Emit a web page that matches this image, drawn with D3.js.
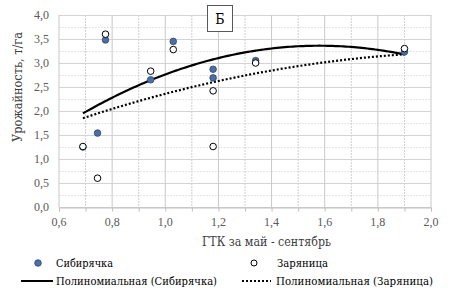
<!DOCTYPE html>
<html>
<head>
<meta charset="utf-8">
<script src="https://d3js.org/d3.v7.min.js"></script>
<style>
body { margin: 0; background: #fff; }
.num { font-family: "Liberation Serif", "Times New Roman", serif; }
.cyr { font-family: "DejaVu Serif Condensed", "DejaVu Serif", serif; }
</style>
</head>
<body>
<svg width="452" height="288"></svg>
<script>
// data
var gtk      = [0.69, 0.745, 0.775, 0.945, 1.03, 1.18, 1.18, 1.34, 1.90];
var sibir    = [1.25, 1.54, 3.48, 2.65, 3.45, 2.87, 2.69, 3.05, 3.23];
var zaryan   = [1.26, 0.60, 3.60, 2.83, 3.28, 2.42, 1.26, 3.00, 3.30];
// trend line coefficients (c0 + c1*x + c2*x^2)
var trendSibir  = [-1.084, 5.625, -1.78];
var trendZaryan = [0.306, 2.651, -0.599];
var xTicks = [0.6, 0.8, 1.0, 1.2, 1.4, 1.6, 1.8, 2.0];
var yTicks = [0, 0.5, 1, 1.5, 2, 2.5, 3, 3.5, 4];

var svg = d3.select("svg");
var pL = 59, pR = 431, pT = 15, pB = 207;
var x = d3.scaleLinear().domain([0.6, 2.0]).range([pL, pR]);
var y = d3.scaleLinear().domain([0, 4]).range([pB, pT]);
var fmt = function(v){ return d3.format(".1f")(v).replace(".", ","); };

// grid
var g = svg.append("g");
d3.range(0, 4.001, 0.25).forEach(function(v, i){
  g.append("line").attr("x1", pL).attr("x2", pR).attr("y1", y(v) + 0.5).attr("y2", y(v) + 0.5)
   .attr("stroke", i % 2 ? "#e6e6e6" : "#d4d4d4").attr("stroke-width", 1)
   .attr("stroke-dasharray", i % 2 ? "2,1" : null);
});
d3.range(0.6, 2.001, 0.1).forEach(function(v, i){
  g.append("line").attr("x1", x(v)).attr("x2", x(v)).attr("y1", pT).attr("y2", pB)
   .attr("stroke", i % 2 ? "#cfcfcf" : "#c8c8c8").attr("stroke-width", 1)
   .attr("stroke-dasharray", i % 2 ? "2,1" : null);
});

// x axis
var xa = svg.append("g").attr("transform", "translate(0," + (pB + 0.5) + ")")
  .call(d3.axisBottom(x).tickValues(d3.range(0.6, 2.001, 0.1)).tickSize(4).tickFormat(""));
xa.select(".domain").attr("stroke", "#bfbfbf");
xa.selectAll(".tick line").attr("stroke", "#bfbfbf");
svg.append("g").attr("class", "num").selectAll("text").data(xTicks).enter().append("text")
  .attr("x", function(d){ return x(d); }).attr("y", 226)
  .attr("text-anchor", "middle").attr("font-size", 12).attr("fill", "#595959")
  .text(fmt);
svg.append("g").attr("class", "num").selectAll("text").data(yTicks).enter().append("text")
  .attr("x", 49).attr("y", function(d){ return y(d) + 4; })
  .attr("text-anchor", "end").attr("font-size", 12).attr("fill", "#595959")
  .text(fmt);

// titles
svg.append("text").attr("class", "cyr").attr("x", 202).attr("y", 246)
  .attr("font-size", 12.5).attr("fill", "#404040")
  .attr("textLength", 129).attr("lengthAdjust", "spacingAndGlyphs").text("ГТК за май - сентябрь");
svg.append("text").attr("class", "cyr").attr("transform", "translate(22,142) rotate(-90)")
  .attr("font-size", 12.5).attr("fill", "#404040")
  .attr("textLength", 110).attr("lengthAdjust", "spacingAndGlyphs").text("Урожайность, т/га");

// trend lines
function curve(c){
  var xs = d3.range(d3.min(gtk), d3.max(gtk) + 0.0001, 0.01);
  return xs.map(function(v){ return [v, c[0] + c[1]*v + c[2]*v*v]; });
}
var line = d3.line().x(function(d){ return x(d[0]); }).y(function(d){ return y(d[1]); });
svg.append("path").attr("d", line(curve(trendZaryan))).attr("fill", "none")
  .attr("stroke", "#000").attr("stroke-width", 2.2).attr("stroke-dasharray", "2,2");
svg.append("path").attr("d", line(curve(trendSibir))).attr("fill", "none")
  .attr("stroke", "#000").attr("stroke-width", 2.2);

// points
svg.append("g").selectAll("circle").data(gtk).enter().append("circle")
  .attr("cx", function(d){ return x(d); }).attr("cy", function(d, i){ return y(sibir[i]); })
  .attr("r", 3.3).attr("fill", "#4e6fa3").attr("stroke", "#2d4670").attr("stroke-width", 0.8);
svg.append("g").selectAll("circle").data(gtk).enter().append("circle")
  .attr("cx", function(d){ return x(d); }).attr("cy", function(d, i){ return y(zaryan[i]); })
  .attr("r", 3.3).attr("fill", "#fff").attr("stroke", "#000").attr("stroke-width", 1);

// label box
svg.append("rect").attr("x", 207.5).attr("y", 5.5).attr("width", 25).attr("height", 26)
  .attr("fill", "#fff").attr("stroke", "#595959").attr("stroke-width", 1);
svg.append("text").attr("class", "cyr").attr("x", 220).attr("y", 24).attr("text-anchor", "middle")
  .attr("font-size", 14).attr("fill", "#000").text("Б");

// legend
var lg = svg.append("g").attr("class", "cyr").attr("font-size", 11.5).attr("fill", "#000");
lg.append("circle").attr("cx", 38).attr("cy", 263).attr("r", 3.3)
  .attr("fill", "#4e6fa3").attr("stroke", "#2d4670").attr("stroke-width", 0.8);
lg.append("text").attr("x", 56).attr("y", 267).attr("textLength", 57)
  .attr("lengthAdjust", "spacingAndGlyphs").text("Сибирячка");
lg.append("circle").attr("cx", 254).attr("cy", 263).attr("r", 3)
  .attr("fill", "#fff").attr("stroke", "#000").attr("stroke-width", 1);
lg.append("text").attr("x", 277).attr("y", 267).attr("textLength", 51)
  .attr("lengthAdjust", "spacingAndGlyphs").text("Заряница");
lg.append("line").attr("x1", 21).attr("x2", 53).attr("y1", 281).attr("y2", 281)
  .attr("stroke", "#000").attr("stroke-width", 2);
lg.append("text").attr("x", 56).attr("y", 285).attr("textLength", 161)
  .attr("lengthAdjust", "spacingAndGlyphs").text("Полиномиальная (Сибирячка)");
lg.append("line").attr("x1", 242).attr("x2", 271).attr("y1", 281).attr("y2", 281)
  .attr("stroke", "#000").attr("stroke-width", 2).attr("stroke-dasharray", "2,2");
lg.append("text").attr("x", 276).attr("y", 285).attr("textLength", 157)
  .attr("lengthAdjust", "spacingAndGlyphs").text("Полиномиальная (Заряница)");
</script>
</body>
</html>
